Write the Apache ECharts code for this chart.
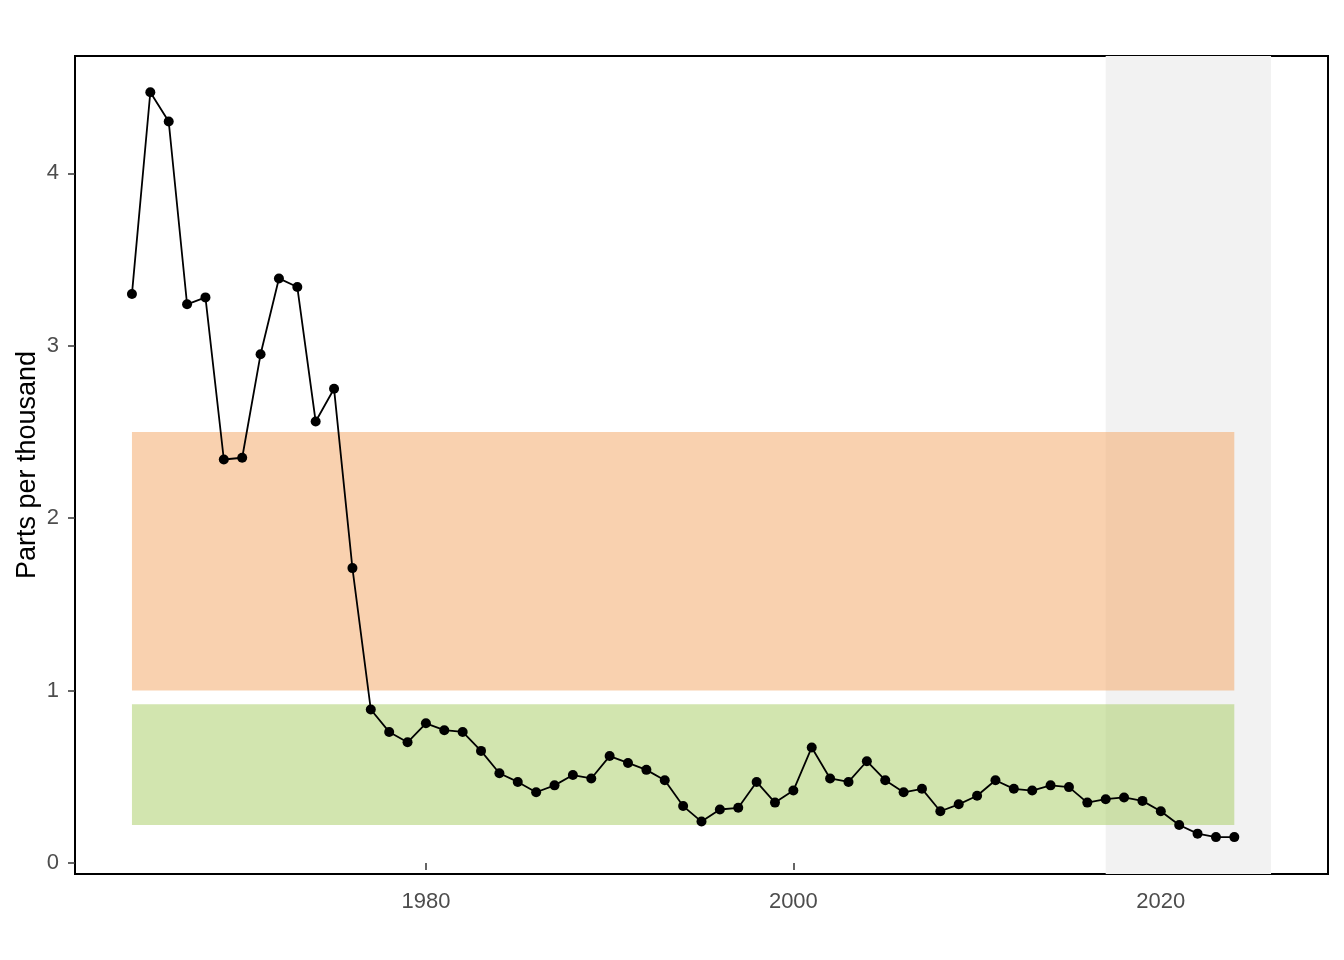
<!DOCTYPE html>
<html>
<head>
<meta charset="utf-8">
<script src="https://cdn.jsdelivr.net/npm/echarts@6/dist/echarts.min.js"></script>
<style>
  html, body { margin: 0; padding: 0; background: #fff; }
  #chart { width: 1344px; height: 960px; }
</style>
</head>
<body>
<div id="chart"></div>
<script>
// 年份
const years = [
  1964, 1965, 1966, 1967, 1968, 1969, 1970, 1971, 1972, 1973,
  1974, 1975, 1976, 1977, 1978, 1979, 1980, 1981, 1982, 1983,
  1984, 1985, 1986, 1987, 1988, 1989, 1990, 1991, 1992, 1993,
  1994, 1995, 1996, 1997, 1998, 1999, 2000, 2001, 2002, 2003,
  2004, 2005, 2006, 2007, 2008, 2009, 2010, 2011, 2012, 2013,
  2014, 2015, 2016, 2017, 2018, 2019, 2020, 2021, 2022, 2023,
  2024
]
// 每年数值 (parts per thousand)
const values = [
  3.30, 4.47, 4.30, 3.24, 3.28, 2.34, 2.35, 2.95, 3.39, 3.34,
  2.56, 2.75, 1.71, 0.89, 0.76, 0.70, 0.81, 0.77, 0.76, 0.65,
  0.52, 0.47, 0.41, 0.45, 0.51, 0.49, 0.62, 0.58, 0.54, 0.48,
  0.33, 0.24, 0.31, 0.32, 0.47, 0.35, 0.42, 0.67, 0.49, 0.47,
  0.59, 0.48, 0.41, 0.43, 0.30, 0.34, 0.39, 0.48, 0.43, 0.42,
  0.45, 0.44, 0.35, 0.37, 0.38, 0.36, 0.30, 0.22, 0.17, 0.15,
  0.15
]
// 阴影区间：灰色年份带、橙色与绿色范围 [x1, x2, y1, y2]
const grayBand = [2017, 2026]
const orangeBand = [1964, 2024, 1.0, 2.5]
const greenBand = [1964, 2024, 0.22, 0.92]
// 刻度
const xTicks = [1980, 2000, 2020]
const yTicks = [0, 1, 2, 3, 4]

const myChart = echarts.init(document.querySelector('#chart'))
const font = 'Liberation Sans, Arial, sans-serif'
const option = {
  backgroundColor: '#fff',
  animation: false,
  grid: {
    left: 75,
    right: 16,
    top: 56,
    bottom: 86,
    show: true,
    borderColor: '#000',
    borderWidth: 2,
  },
  xAxis: {
    type: 'value',
    min: 1960.9,
    max: 2029.1,
    axisLine: { show: false },
    splitLine: { show: false },
    axisTick: {
      show: true,
      length: 7,
      customValues: xTicks,
      lineStyle: { color: '#333', width: 1.5 },
    },
    axisLabel: {
      customValues: xTicks,
      formatter: v => String(v),
      margin: 17,
      fontSize: 22,
      fontFamily: font,
      color: '#4D4D4D',
    },
  },
  yAxis: {
    type: 'value',
    min: -0.064,
    max: 4.68,
    name: 'Parts per thousand',
    nameLocation: 'middle',
    nameGap: 34,
    nameMoveOverlap: false,
    nameTextStyle: { fontSize: 27, fontFamily: font, color: '#000' },
    axisLine: { show: false },
    splitLine: { show: false },
    axisTick: {
      show: true,
      length: 7,
      customValues: yTicks,
      lineStyle: { color: '#333', width: 1.5 },
    },
    axisLabel: {
      customValues: yTicks,
      margin: 16,
      fontSize: 22,
      fontFamily: font,
      color: '#4D4D4D',
    },
  },
  series: [
    {
      // 灰色背景带
      type: 'line',
      data: [],
      z: 1,
      markArea: {
        silent: true,
        itemStyle: { color: '#F2F2F2' },
        data: [[{ xAxis: grayBand[0] }, { xAxis: grayBand[1] }]],
      },
    },
    {
      // 橙色、绿色范围（半透明）
      type: 'line',
      data: [],
      z: 2,
      markArea: {
        silent: true,
        data: [
          [
            { xAxis: orangeBand[0], yAxis: orangeBand[2], itemStyle: { color: 'rgba(244,164,96,0.5)' } },
            { xAxis: orangeBand[1], yAxis: orangeBand[3] },
          ],
          [
            { xAxis: greenBand[0], yAxis: greenBand[2], itemStyle: { color: 'rgba(165,204,95,0.5)' } },
            { xAxis: greenBand[1], yAxis: greenBand[3] },
          ],
        ],
      },
    },
    {
      type: 'line',
      z: 5,
      data: years.map((y, i) => [y, values[i]]),
      symbol: 'circle',
      symbolSize: 10,
      showAllSymbol: true,
      itemStyle: { color: '#000' },
      lineStyle: { color: '#000', width: 1.8 },
    },
  ],
}
myChart.setOption(option)
</script>
</body>
</html>
